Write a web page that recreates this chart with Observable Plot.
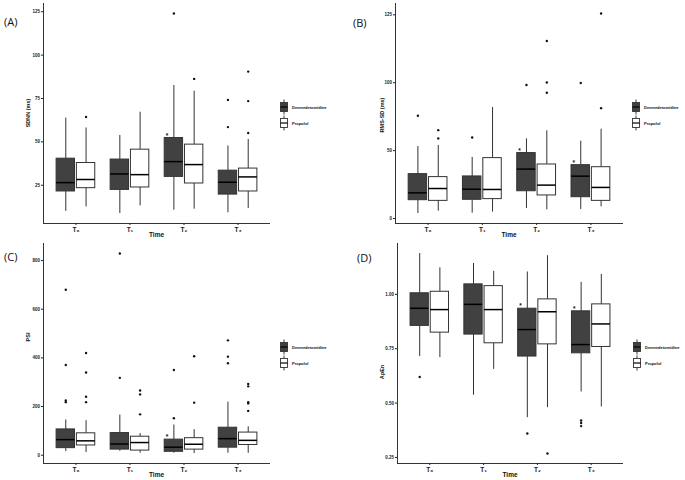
<!DOCTYPE html>
<html><head><meta charset="utf-8">
<script src="https://cdn.jsdelivr.net/npm/d3@7"></script>
<script src="https://cdn.jsdelivr.net/npm/@observablehq/plot@0.6"></script>
<style>
body{margin:0;background:#fff;}
#wrap{position:relative;width:685px;height:480px;overflow:hidden;font-family:"Liberation Sans",Arial,sans-serif;color:#111;}
.panel{position:absolute;}
.letter{position:absolute;font-size:11px;line-height:11px;font-family:"Open Sans","Liberation Sans",sans-serif;}
.ytitle{position:absolute;font-size:5.5px;font-weight:bold;white-space:nowrap;transform:translate(-50%,-50%) rotate(-90deg);}
.xtitle{position:absolute;font-size:6.5px;font-weight:bold;white-space:nowrap;transform:translate(-50%,-50%);}
.leg{position:absolute;display:flex;align-items:center;font-size:4px;font-weight:bold;white-space:nowrap;transform:translateY(-50%);}
.leg svg{margin-right:4px;}
</style></head><body><div id="wrap"></div>
<script>
const times = ["T₀","T₁","T₂","T₃"];
const groups = ["Dexmedetomidine","Propofol"];
const groupFill = ["#414141","#ffffff"];

// box statistics per time point: [lower whisker, Q1, median, Q3, upper whisker]
const sdnnDex = [[9.9,21.4,26.5,40.3,63.7],[8.7,22.3,31.5,39.8,53.7],[10.6,29.8,38.6,52.2,82.5],[9.1,19.6,26.7,33.4,47.6]];
const sdnnPro = [[12.5,23.3,28.3,37.8,58.0],[13.1,23.7,31.1,45.5,67.1],[11.2,26.0,36.9,48.4,79.2],[11.6,21.4,29.8,34.6,51.4]];
const sdnnDexOut = [[],[],[124],[74.2,58.5]];
const sdnnProOut = [[64.3],[],[86.3],[90.5,73.5,55.1]];
const sdnnStars = [2];
const sdnnTicks = [25,50,75,100,125];
const sdnnTickLabels = ["25","50","75","100","125"];

const rmssdDex = [[3.7,13.5,18.9,32.7,53.0],[3.9,13.8,21.6,31.0,45.0],[7.4,20.1,36.4,48.2,58.7],[6.6,15.7,31.2,39.3,57.0]];
const rmssdPro = [[5.4,13.0,22.1,30.5,53.8],[4.7,14.3,21.4,44.5,81.8],[6.4,17.0,24.6,39.8,64.6],[8.6,13.0,22.9,37.8,65.8]];
const rmssdDexOut = [[75.7],[59.7],[98.3],[99.8]];
const rmssdProOut = [[65.1,59.0],[],[130.7,100.2,92.6],[151,81.3]];
const rmssdStars = [2,3];
const rmssdTicks = [0,50,100,150];
const rmssdTickLabels = ["0","50","100","125"];

const psiDex = [[15,29,64,106,145],[16,23,46,91,165],[8,14,33,64,124],[8,31,68,113,218]];
const psiPro = [[11,40,59,90,142],[8,19,52,76,89],[7,23,45,70,105],[8,42,61,93,117]];
const psiDexOut = [[680,371,225,218],[829,318],[350,152],[472,405,378]];
const psiProOut = [[420,340,240,218],[266,250,168],[407,216],[293,283,218,213,182]];
const psiStars = [2];
const psiTicks = [0,200,400,600,800];
const psiTickLabels = ["0","200","400","600","800"];

const apenDex = [[0.714,0.855,0.936,1.005,1.188],[0.536,0.815,0.954,1.046,1.142],[0.433,0.714,0.838,0.934,1.103],[0.551,0.729,0.769,0.922,1.055]];
const apenPro = [[0.709,0.824,0.930,1.012,1.122],[0.655,0.775,0.930,1.038,1.106],[0.479,0.770,0.920,0.977,1.178],[0.482,0.758,0.864,0.954,1.092]];
const apenDexOut = [[0.620],[],[0.360],[0.420,0.408,0.394]];
const apenProOut = [[],[],[0.268],[]];
const apenStars = [2,3];
const apenTicks = [0.25,0.50,0.75,1.00];
const apenTickLabels = ["0.25","0.50","0.75","1.00"];

const panels = [
  {letter:"(A)", left:0, top:0, width:340, ml:43, mr:70, dex:sdnnDex, pro:sdnnPro, dexOut:sdnnDexOut, proOut:sdnnProOut, stars:sdnnStars, ticks:sdnnTicks, tickLabels:sdnnTickLabels, ytitle:"SDNN (ms)", yt:[28,113], lx:4, ly:16, keyX:280},
  {letter:"(B)", left:340, top:0, width:345, ml:55, mr:62, dex:rmssdDex, pro:rmssdPro, dexOut:rmssdDexOut, proOut:rmssdProOut, stars:rmssdStars, ticks:rmssdTicks, tickLabels:rmssdTickLabels, ytitle:"RMS-SD (ms)", yt:[382,115], lx:353, ly:17, keyX:632},
  {letter:"(C)", left:0, top:240, width:340, ml:43, mr:70, dex:psiDex, pro:psiPro, dexOut:psiDexOut, proOut:psiProOut, stars:psiStars, ticks:psiTicks, tickLabels:psiTickLabels, ytitle:"PSI", yt:[28,337], lx:4, ly:251, keyX:280},
  {letter:"(D)", left:340, top:240, width:345, ml:57, mr:62, dex:apenDex, pro:apenPro, dexOut:apenDexOut, proOut:apenProOut, stars:apenStars, ticks:apenTicks, tickLabels:apenTickLabels, ytitle:"ApEn", yt:[382,372], lx:357, ly:252, keyX:633}
];

const wrap = document.getElementById("wrap");
const dodge = 0.1875, hw = 0.17;

function add(cls, text, left, top) {
  const d = document.createElement("div");
  d.className = cls; d.textContent = text;
  d.style.left = left + "px"; d.style.top = top + "px";
  wrap.appendChild(d); return d;
}

function keySvg(fill) {
  return `<svg width="8" height="16" viewBox="0 0 8 16"><line x1="4" x2="4" y1="0.5" y2="15.5" stroke="#222" stroke-width="0.9"/><rect x="0.5" y="3.5" width="7" height="9" fill="${fill}" stroke="#333" stroke-width="0.9"/><line x1="0.5" x2="7.5" y1="8" y2="8" stroke="#000" stroke-width="1.2"/></svg>`;
}

for (const cfg of panels) {
  const rows = [];
  [cfg.dex, cfg.pro].forEach((arr, g) => arr.forEach((s, t) => rows.push({
    t, g, group: groups[g], pos: t + 1 + (g ? dodge : -dodge),
    low: s[0], q1: s[1], med: s[2], q3: s[3], high: s[4]
  })));
  const outs = [];
  [cfg.dexOut, cfg.proOut].forEach((arr, g) => arr.forEach((vals, t) => vals.forEach(v => outs.push({pos: t + 1 + (g ? dodge : -dodge), v}))));
  const stars = cfg.stars.map(t => rows.find(r => r.g === 0 && r.t === t));
  const all = rows.flatMap(r => [r.low, r.high]).concat(outs.map(o => o.v));
  const [mn, mx] = d3.extent(all);
  const e = 0.05 * (mx - mn);
  const y0 = mn - e;

  const plot = Plot.plot({
    width: cfg.width, height: 240,
    marginTop: 3, marginBottom: 17, marginLeft: cfg.ml, marginRight: cfg.mr,
    x: {domain: [0.4, 4.6]},
    y: {domain: [y0, mx + e]},
    color: {domain: groups, range: groupFill},
    style: {fontFamily: "Liberation Sans, Arial, sans-serif", background: "transparent", color: "#222"},
    marks: [
      Plot.ruleX(rows, {x: "pos", y1: "low", y2: "q1", stroke: "#1c1c1c", strokeWidth: 0.9}),
      Plot.ruleX(rows, {x: "pos", y1: "q3", y2: "high", stroke: "#1c1c1c", strokeWidth: 0.9}),
      Plot.rect(rows, {x1: d => d.pos - hw, x2: d => d.pos + hw, y1: "q1", y2: "q3", fill: "group", stroke: "#333", strokeWidth: 1}),
      Plot.ruleY(rows, {y: "med", x1: d => d.pos - hw, x2: d => d.pos + hw, stroke: "#000", strokeWidth: 1.5}),
      Plot.dot(outs, {x: "pos", y: "v", r: 1.2, fill: "#111", stroke: null}),
      Plot.text(stars, {x: d => d.pos - hw, y: "q3", text: () => "*", fontSize: 6.5, fontWeight: "bold", fill: "#111", dx: 2.3, dy: -2.5}),
      Plot.ruleX([0.4], {stroke: "#333", strokeWidth: 1}),
      Plot.ruleY([y0], {stroke: "#333", strokeWidth: 1}),
      Plot.axisY({ticks: cfg.ticks, tickFormat: d => cfg.tickLabels[cfg.ticks.indexOf(d)], tickSize: 2, tickPadding: 1.5, fontSize: 4.5, fontWeight: "bold", label: null}),
      Plot.axisX({ticks: [1, 2, 3, 4], tickFormat: d => times[d - 1], tickSize: 2, tickPadding: 2, fontSize: 6.5, fontWeight: "bold", label: null})
    ]
  });
  const holder = document.createElement("div");
  holder.className = "panel";
  holder.style.left = cfg.left + "px"; holder.style.top = cfg.top + "px";
  holder.appendChild(plot);
  wrap.appendChild(holder);

  add("letter", cfg.letter, cfg.lx, cfg.ly);
  add("ytitle", cfg.ytitle, cfg.yt[0], cfg.yt[1]);
  const axisMid = cfg.left + cfg.ml + (cfg.width - cfg.ml - cfg.mr) / 2;
  add("xtitle", "Time", axisMid, cfg.top + 234);
  groups.forEach((g, i) => {
    const l = add("leg", "", cfg.keyX, cfg.top + 107 + i * 16);
    l.innerHTML = keySvg(groupFill[i]) + `<span>${g}</span>`;
  });
}
</script></body></html>
